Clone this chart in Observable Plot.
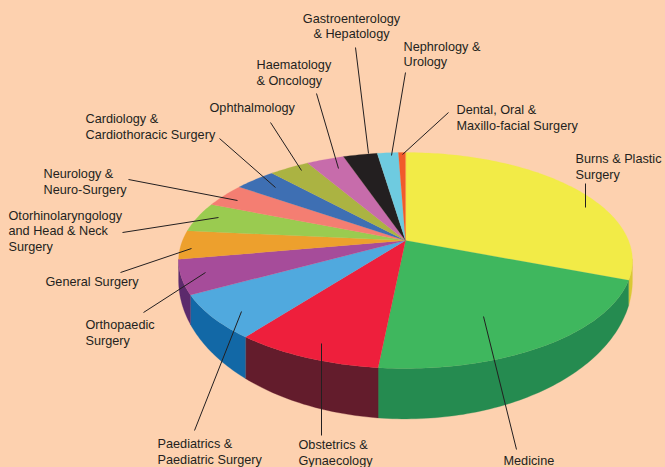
<!DOCTYPE html>
<html><head><meta charset="utf-8">
<script src="https://cdn.jsdelivr.net/npm/d3@7"></script>
<script src="https://cdn.jsdelivr.net/npm/@observablehq/plot@0.6"></script>
<style>html,body{margin:0;padding:0;background:#FDD1AF;overflow:hidden}svg{display:block}</style>
</head><body><div id="chart"></div>
<script>
// Values: share of the pie (%), clockwise from twelve o'clock
const specialties = ["Burns & Plastic Surgery","Medicine","Obstetrics & Gynaecology","Paediatrics & Paediatric Surgery","Orthopaedic Surgery","General Surgery","Otorhinolaryngology and Head & Neck Surgery","Neurology & Neuro-Surgery","Cardiology & Cardiothoracic Surgery","Ophthalmology","Haematology & Oncology","Gastroenterology & Hepatology","Nephrology & Urology","Dental, Oral & Maxillo-facial Surgery"];
const shares = [30.8,20.8,8.9,6.6,5.1,4.3,4.5,3.6,3.5,3.4,3.2,2.9,1.8,0.6];
const topColors = ["#F2EB47","#3FB75E","#EE1F3C","#50A9DE","#A64C9A","#EDA02D","#9ACB50","#F47E72","#3E6FB3","#ABB342","#C76CAB","#231F20","#6ECBE0","#F15A2B"];
const sideColors = ["#D9C934","#258B50","#631C2C","#1268A6","#5C2A6C",null,null,null,null,null,null,null,null,null];

// Label text, anchor position, and leader line (presentation, not data)
const labels = [
  {t:"Burns & Plastic\nSurgery",x:575,y:165.5,a:"start",l:[585,183,585,207]},
  {t:"Medicine",x:503,y:460,a:"start",l:[483,316,516,449]},
  {t:"Obstetrics &\nGynaecology",x:298,y:451.5,a:"start",l:[321,343,321,435]},
  {t:"Paediatrics &\nPaediatric Surgery",x:157,y:450.5,a:"start",l:[241,311,194,430]},
  {t:"Orthopaedic\nSurgery",x:85,y:331.5,a:"start",l:[205,272,143,312]},
  {t:"General Surgery",x:45,y:280.5,a:"start",l:[191,248,120,272]},
  {t:"Otorhinolaryngology\nand Head & Neck\nSurgery",x:8,y:230,a:"start",l:[218,217,122,232]},
  {t:"Neurology &\nNeuro-Surgery",x:43,y:180.5,a:"start",l:[237,200,128,179]},
  {t:"Cardiology &\nCardiothoracic Surgery",x:85,y:125.5,a:"start",l:[275,187,219,138]},
  {t:"Ophthalmology",x:209,y:107,a:"start",l:[301,170,270,122]},
  {t:"Haematology\n& Oncology",x:256,y:71.5,a:"start",l:[338,168,316,93]},
  {t:"Gastroenterology\n& Hepatology",x:351,y:25,a:"middle",l:[368,153,355,47]},
  {t:"Nephrology &\nUrology",x:403,y:53,a:"start",l:[391,155,405,72]},
  {t:"Dental, Oral &\nMaxillo-facial Surgery",x:456,y:116.5,a:"start",l:[402,154,448,112]}
];

// Perspective projection of a disc: apex, radii, foreshortening
const cx = 405, R = 223, k = 0.185;
const top0 = 240, topS = 104.3, bot0 = 254, botS = 134;
const rim = (deg, y0, S) => {
  const p = deg * Math.PI / 180, s = Math.sin(p), c = Math.cos(p), d = 1 + k * c;
  return {x: cx + R * s / d, y: y0 - S * c / d};
};
const total = d3.sum(shares);
let acc = 0;
const slices = shares.map((v, i) => {
  const a = acc / total * 360; acc += v;
  return {name: specialties[i], a, b: acc / total * 360, top: topColors[i], side: sideColors[i]};
});
const arcDegs = (a, b) => {
  const n = Math.max(2, Math.ceil(b - a)), out = [];
  for (let j = 0; j <= n; j++) out.push(a + (b - a) * j / n);
  return out;
};
const wallMin = 100, wallMax = 262;
const walls = slices.filter(s => s.side).flatMap(s => {
  const a = Math.max(s.a, wallMin), b = Math.min(s.b, wallMax);
  const ds = arcDegs(a, b);
  return [...ds.map(d => rim(d, top0, topS)), ...ds.reverse().map(d => rim(d, bot0, botS))]
    .map(p => ({...p, name: s.name, color: s.side}));
});
const faces = slices.flatMap(s => [{x: cx, y: top0}, ...arcDegs(s.a, s.b).map(d => rim(d, top0, topS))]
  .map(p => ({...p, name: s.name, color: s.top})));

const chart = Plot.plot({
  width: 665, height: 467, margin: 0,
  x: {domain: [0, 665], range: [0, 665], axis: null},
  y: {domain: [0, 467], range: [0, 467], axis: null},
  style: {background: "#FDD1AF"},
  marks: [
    Plot.line(walls, {x: "x", y: "y", z: "name", fill: "color", stroke: "color", strokeWidth: 0.3, curve: "linear-closed"}),
    Plot.line(faces, {x: "x", y: "y", z: "name", fill: "color", stroke: "color", strokeWidth: 0.2, curve: "linear-closed"}),
    Plot.link(labels, {x1: d => d.l[0], y1: d => d.l[1], x2: d => d.l[2], y2: d => d.l[3], stroke: "#231F20", strokeWidth: 1}),
    ...["start", "middle"].map(a => Plot.text(labels.filter(d => d.a === a), {
      x: "x", y: "y", text: "t", textAnchor: a, lineHeight: 1.22,
      fontSize: 12.7, fontFamily: "Liberation Sans", fill: "#231F20"
    }))
  ]
});
document.getElementById("chart").append(chart);
</script></body></html>
